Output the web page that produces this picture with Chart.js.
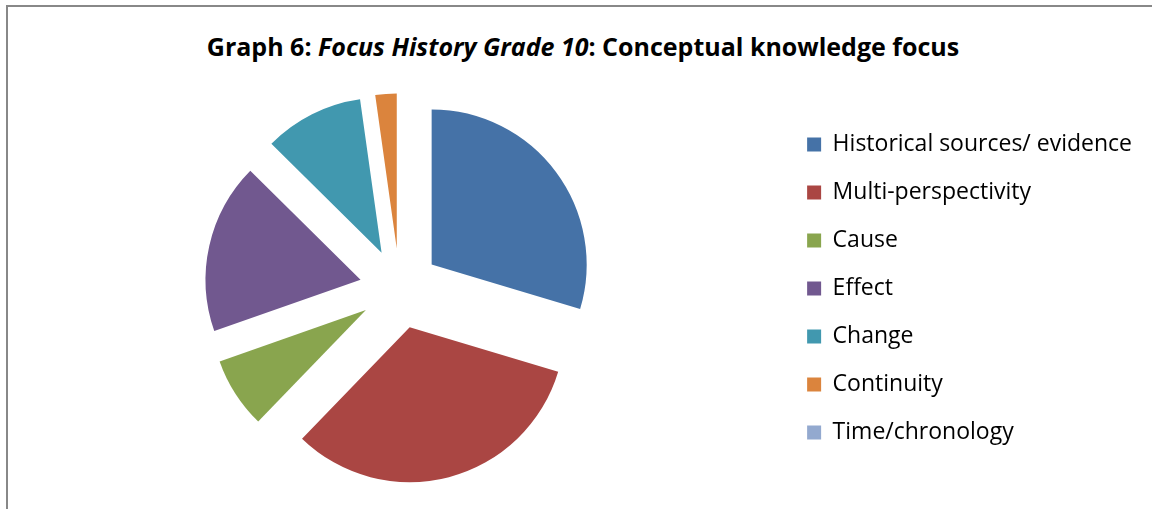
<!DOCTYPE html>
<html>
<head>
<meta charset="utf-8">
<script src="https://cdn.jsdelivr.net/npm/chart.js@4"></script>
<style>
  html, body { margin: 0; padding: 0; background: #fff; overflow: hidden; }
  body { width: 1152px; height: 509px; position: relative; font-family: "Open Sans", sans-serif; }
  .frame { position: absolute; left: 6px; top: 5px; width: 1300px; height: 700px; border: 2px solid #888; }
  .title { position: absolute; left: 0; top: 29px; width: 1166px; text-align: center;
           font-size: 25px; font-weight: bold; color: #000; line-height: 34px; }
  #wrap { position: absolute; left: 0; top: 0; width: 1152px; height: 509px; }
</style>
</head>
<body>
<div class="frame"></div>
<div class="title">Graph 6: <i>Focus History Grade 10</i>: Conceptual knowledge focus</div>
<div id="wrap"><canvas id="pie"></canvas></div>
<script>
// categories and counts
const categories = ['Historical sources/ evidence', 'Multi-perspectivity', 'Cause', 'Effect', 'Change', 'Continuity', 'Time/chronology'];
const counts = [40, 44, 10, 24, 14, 3, 0];
const colours = ['#4572A7', '#AA4643', '#89A54E', '#71588F', '#4198AF', '#DB843D', '#93A9CF'];

const PIE_RADIUS = 155;
const EXPLODE = 40;

// Chart.js' own "offset" also shrinks and stretches thin slices,
// so move every slice out by the same distance along its mid angle instead
const explodeSlices = {
  id: 'explodeSlices',
  afterDatasetsUpdate(chart) {
    chart.getDatasetMeta(0).data.forEach(arc => {
      const mid = (arc.startAngle + arc.endAngle) / 2;
      arc.x += Math.cos(mid) * EXPLODE;
      arc.y += Math.sin(mid) * EXPLODE;
    });
  }
};

new Chart(document.getElementById('pie'), {
  type: 'pie',
  data: {
    labels: categories,
    datasets: [{
      data: counts,
      backgroundColor: colours,
      borderWidth: 0,
      hoverOffset: 0,
      radius: PIE_RADIUS
    }]
  },
  options: {
    responsive: true,
    maintainAspectRatio: false,
    animation: false,
    layout: { padding: { left: 17, right: 10, top: 68, bottom: 0 } },
    plugins: {
      title: { display: false },
      tooltip: { enabled: false },
      legend: {
        position: 'right',
        labels: {
          boxWidth: 14,
          boxHeight: 14,
          padding: 25,
          color: '#000',
          font: { family: 'Open Sans', size: 23 }
        }
      }
    }
  },
  plugins: [explodeSlices]
});
</script>
</body>
</html>
